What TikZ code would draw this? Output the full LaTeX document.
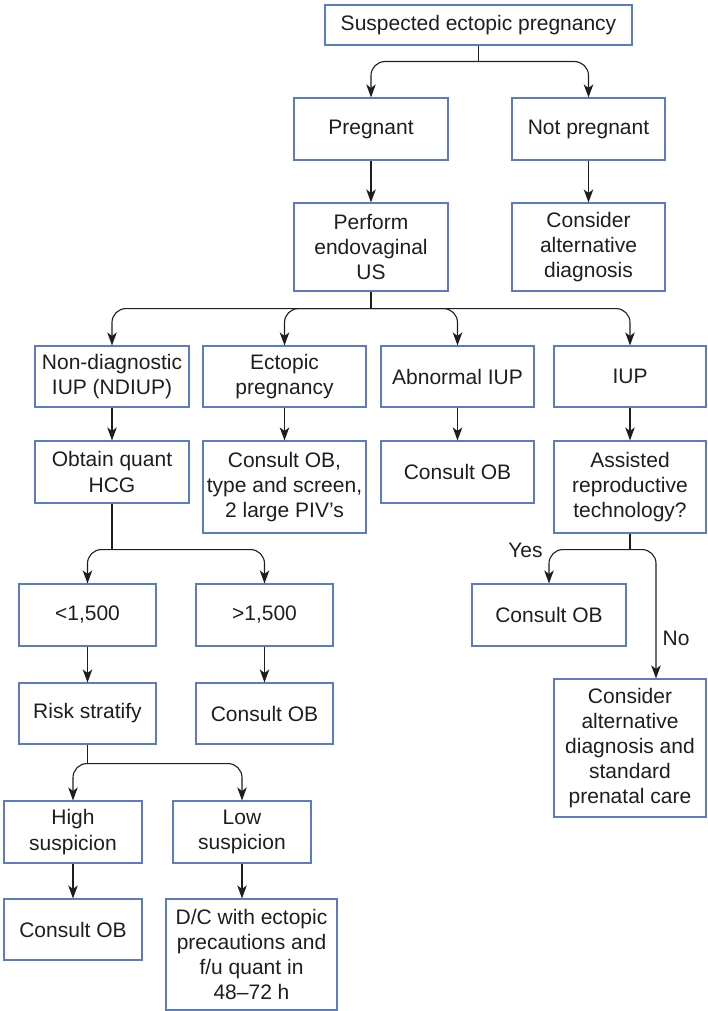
\documentclass[tikz,border=0pt]{standalone}
\usepackage{fontspec}
\setmainfont{Liberation Sans}
\usetikzlibrary{arrows.meta,calc}
\definecolor{boxblue}{RGB}{92,122,200}
\definecolor{ink}{RGB}{30,30,30}
\begin{document}
\begin{tikzpicture}[x=1pt,y=-1pt,
  box/.style={draw=boxblue, line width=1.1pt, align=center, inner sep=0pt,
    text=ink, font=\fontsize{21}{25.2}\selectfont},
  stem/.style={draw=ink, line width=1.1pt},
  flow/.style={stem, -{Stealth[length=13pt,width=9.5pt,inset=3.5pt]}},
  branch/.style={flow, rounded corners=14pt},
  lbl/.style={text=ink, font=\fontsize{21}{25.2}\selectfont, inner sep=0pt}]
\useasboundingbox (0,0) rectangle (707,1011);

% first tier
\node[box, minimum width=307pt, minimum height=40pt] (top) at (478.5,25) {Suspected ectopic pregnancy};
\node[box, minimum width=154pt, minimum height=62pt] (preg) at (371,129) {Pregnant};
\node[box, minimum width=153pt, minimum height=62pt] (notpreg) at (588.5,129) {Not pregnant};
\node[box, minimum width=154pt, minimum height=88pt] (perform) at (371,247) {Perform\\endovaginal\\US};
\node[box, minimum width=153pt, minimum height=88pt] (consalt) at (588.5,247) {Consider\\alternative\\diagnosis};

% ultrasound results
\node[box, minimum width=154pt, minimum height=61pt] (ndiup) at (112,376.5) {Non-diagnostic\\IUP (NDIUP)};
\node[box, minimum width=163pt, minimum height=61pt] (ectopic) at (284.5,376.5) {Ectopic\\pregnancy};
\node[box, minimum width=153pt, minimum height=61pt] (abn) at (457.5,376.5) {Abnormal IUP};
\node[box, minimum width=152pt, minimum height=61pt] (iup) at (630,376.5) {IUP};

\node[box, minimum width=154pt, minimum height=62pt] (quant) at (112,472) {Obtain quant\\HCG};
\node[box, minimum width=163pt, minimum height=92pt] (obect) at (284.5,487) {Consult OB,\\type and screen,\\2 large PIV’s};
\node[box, minimum width=153pt, minimum height=62pt] (obabn) at (457.5,472) {Consult OB};
\node[box, minimum width=152pt, minimum height=92pt] (art) at (630,487) {Assisted\\reproductive\\technology?};

% HCG branch
\node[box, minimum width=137pt, minimum height=62pt] (lt) at (87.5,615) {<1,500};
\node[box, minimum width=137pt, minimum height=62pt] (gt) at (264.5,615) {>1,500};
\node[box, minimum width=137pt, minimum height=61pt] (risk) at (87.5,713.5) {Risk stratify};
\node[box, minimum width=137pt, minimum height=61pt] (obgt) at (264.5,713.5) {Consult OB};

\node[box, minimum width=138pt, minimum height=62pt] (high) at (73,832) {High\\suspicion};
\node[box, minimum width=138pt, minimum height=62pt] (low) at (242,832) {Low\\suspicion};
\node[box, minimum width=138pt, minimum height=61pt] (obhigh) at (73,929.5) {Consult OB};
\node[box, minimum width=171pt, minimum height=111pt] (dc) at (251.5,954.5) {D/C with ectopic\\precautions and\\f/u quant in\\48–72 h};

% IUP branch
\node[box, minimum width=154pt, minimum height=62pt] (obyes) at (549,615) {Consult OB};
\node[box, minimum width=152pt, minimum height=138pt] (altcare) at (630,748) {Consider\\alternative\\diagnosis and\\standard\\prenatal care};

\node[lbl] (yes) at (525.5,550) {Yes};
\node[lbl] (no) at (676,638) {No};

% junction points
\path (top.south) ++(0,16) coordinate (j1);
\path (perform.south) ++(0,17) coordinate (j2);
\path (quant.south) ++(0,46) coordinate (j3);
\path (risk.south) ++(0,19) coordinate (j4);
\path (art.south) ++(0,16) coordinate (j5);
\coordinate (noend) at ($(altcare.north)+(26,0)$);

% connectors
\draw[stem] (top.south) -- (j1);
\draw[branch] (j1) -| (preg.north);
\draw[branch] (j1) -| (notpreg.north);
\draw[flow] (preg) -- (perform);
\draw[flow] (notpreg) -- (consalt);

\draw[stem] (perform.south) -- (j2);
\draw[branch] (j2) -| (ndiup.north);
\draw[branch] (j2) -| (ectopic.north);
\draw[branch] (j2) -| (abn.north);
\draw[branch] (j2) -| (iup.north);

\draw[flow] (ndiup) -- (quant);
\draw[flow] (ectopic) -- (obect.north);
\draw[flow] (abn) -- (obabn);
\draw[flow] (iup) -- (art.north);

\draw[stem] (quant.south) -- (j3);
\draw[branch] (j3) -| (lt.north);
\draw[branch] (j3) -| (gt.north);
\draw[flow] (lt) -- (risk);
\draw[flow] (gt) -- (obgt);

\draw[stem] (risk.south) -- (j4);
\draw[branch] (j4) -| (high.north);
\draw[branch] (j4) -| (low.north);
\draw[flow] (high) -- (obhigh);
\draw[flow] (low.south) -- (low.south |- dc.north);

\draw[stem] (art.south) -- (j5);
\draw[branch] (j5) -| (obyes.north);
\draw[branch] (j5) -| (noend);
\end{tikzpicture}
\end{document}
